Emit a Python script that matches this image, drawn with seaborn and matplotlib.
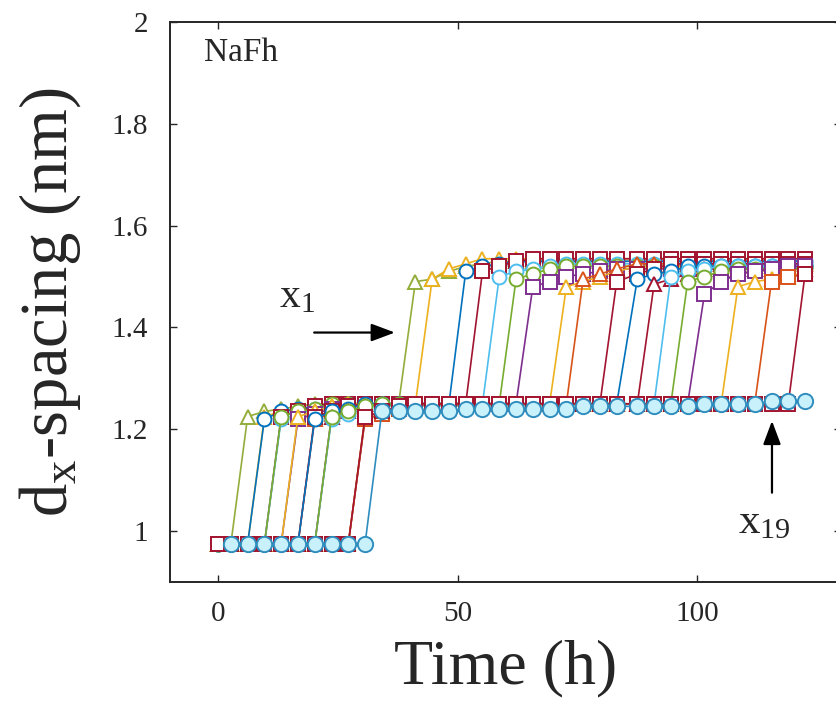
import numpy as np
import pandas as pd
import seaborn as sns
import matplotlib
matplotlib.use("Agg")
import matplotlib.pyplot as plt

# sampling times (h)
time_h = [0, 2.7, 6.2, 9.7, 13.2, 16.7, 20.2, 23.7, 27.2, 30.7,
          34.2, 37.7, 41.2, 44.7, 48.2, 51.7, 55.2, 58.7, 62.2, 65.7,
          69.2, 72.7, 76.2, 79.7, 83.2, 87.5, 91.0, 94.5, 98.0, 101.5,
          105.0, 108.5, 112.0, 115.5, 119.0, 122.5]

# d-spacing (nm) of each layer x1..x19
x01 = [0.975]*2 + [1.225, 1.235, 1.24, 1.245] + [1.25]*6 + [1.49, 1.495, 1.51, 1.52, 1.525] + [1.53]*19
x02 = [0.975]*3 + [1.225, 1.235, 1.24, 1.245] + [1.25]*6 + [1.495, 1.515, 1.525] + [1.535]*20
x03 = [0.975]*3 + [1.22, 1.235, 1.24, 1.245] + [1.25]*8 + [1.51, 1.52, 1.525] + [1.53]*18
x04 = [0.975]*4 + [1.225, 1.235, 1.245] + [1.25]*9 + [1.51, 1.52, 1.53] + [1.535]*17
x05 = [0.975]*4 + [1.22, 1.23, 1.24, 1.245] + [1.25]*9 + [1.50, 1.51, 1.515, 1.52] + [1.525]*15
x06 = [0.975]*4 + [1.225, 1.235, 1.24] + [1.25]*11 + [1.495, 1.505, 1.515] + [1.52]*15
x07 = [0.975]*5 + [1.22, 1.23, 1.24, 1.245] + [1.25]*10 + [1.48, 1.49, 1.50, 1.505, 1.51] + [1.515]*12
x08 = [0.975]*5 + [1.225, 1.235, 1.245] + [1.25]*13 + [1.48, 1.49, 1.50, 1.51] + [1.52]*11
x09 = [0.975]*6 + [1.22, 1.23, 1.24] + [1.25]*13 + [1.495, 1.505, 1.515] + [1.525]*11
x10 = [0.975]*6 + [1.225, 1.235, 1.245] + [1.25]*15 + [1.49, 1.505, 1.515] + [1.525]*9
x11 = [0.975]*6 + [1.22, 1.235, 1.24] + [1.25]*16 + [1.495, 1.505, 1.51] + [1.52]*8
x12 = [0.975]*7 + [1.225, 1.235, 1.245] + [1.25]*16 + [1.485, 1.495, 1.505] + [1.515]*7
x13 = [0.975]*7 + [1.22, 1.23, 1.24] + [1.25]*17 + [1.50, 1.51, 1.515] + [1.52]*6
x14 = [0.975]*7 + [1.225, 1.235, 1.245] + [1.25]*18 + [1.49, 1.50, 1.51] + [1.515]*5
x15 = [0.975]*9 + [1.22, 1.23, 1.24] + [1.25]*17 + [1.465, 1.49, 1.505, 1.51, 1.515, 1.52, 1.52]
x16 = [0.975]*9 + [1.225, 1.235, 1.245] + [1.25]*19 + [1.48, 1.49, 1.495, 1.50, 1.505]
x17 = [0.975]*9 + [1.22, 1.23, 1.24] + [1.25]*21 + [1.49, 1.50, 1.505]
x18 = [0.975]*9 + [1.225, 1.235, 1.245] + [1.25]*23 + [1.505]
x19 = [np.nan] + [0.975]*9 + [1.235]*5 + [1.24]*7 + [1.245]*7 + [1.25]*4 + [1.255]*3

layers = [x01, x02, x03, x04, x05, x06, x07, x08, x09, x10,
          x11, x12, x13, x14, x15, x16, x17, x18, x19]

colors = ['#93AD3C', '#EDB120', '#0072BD', '#A2142F', '#4DBEEE', '#77AC30',
          '#7E2F8E', '#EDB120', '#D95319', '#A2142F', '#0072BD', '#A2142F',
          '#4DBEEE', '#77AC30', '#7E2F8E', '#EDB120', '#D95319', '#A2142F',
          '#2F8DBE']
markers = ['^', '^', 'o', 's', 'o', 'o', 's', '^', '^', 's',
           'o', '^', 'o', 'o', 's', '^', 's', 's', 'o']

rows = []
for i, vals in enumerate(layers):
    for t, v in zip(time_h, vals):
        rows.append({"layer": f"x{i + 1}", "time": t, "d": v})
df = pd.DataFrame(rows)

sns.set_theme(style="ticks")
plt.rcParams['font.family'] = ['Liberation Serif', 'DejaVu Serif']
plt.rcParams['mathtext.fontset'] = 'custom'
plt.rcParams['mathtext.rm'] = 'Liberation Serif'
plt.rcParams['mathtext.it'] = 'Liberation Serif'

fig = plt.figure(figsize=(8.36, 7.11), dpi=100)
ax = fig.add_axes([170 / 836, 129 / 711, 671 / 836, 560 / 711])

for i in range(len(layers)):
    sub = df[df["layer"] == f"x{i + 1}"].dropna()
    last = i == len(layers) - 1
    sns.lineplot(
        data=sub, x="time", y="d", ax=ax, estimator=None, sort=False,
        color=colors[i], linewidth=1.2, marker=markers[i], markersize=11 if last else 10,
        markerfacecolor='#C9F1FB' if last else 'white',
        markeredgecolor=colors[i], markeredgewidth=1.4,
        zorder=10 if last else 3 + i * 0.1, legend=False,
    )

ax.set_xlim(-10, 130)
ax.set_ylim(0.9, 2)
ax.set_xticks([0, 50, 100])
ax.set_yticks([1, 1.2, 1.4, 1.6, 1.8, 2])
ax.set_yticklabels(['1', '1.2', '1.4', '1.6', '1.8', '2'])
ax.tick_params(direction='in', length=5, width=1, labelsize=21, colors='#262626',
               top=True, right=True)
ax.tick_params(axis='y', pad=16)
ax.tick_params(axis='x', pad=14)
for sp in ax.spines.values():
    sp.set_color('#262626')
    sp.set_linewidth(1.4)

ax.set_xlabel('Time (h)', fontsize=46, labelpad=9)
ax.set_ylabel(r'd$_\mathrm{x}$-spacing (nm)', fontsize=48, labelpad=20)

ax.text(-3, 1.94, 'NaFh', fontsize=24, ha='left', va='center')

ax.annotate('', xy=(37.5, 1.39), xytext=(19.5, 1.39),
            arrowprops=dict(arrowstyle='-|>,head_length=1.2,head_width=0.45',
                            color='black', lw=1.6))
ax.text(16.5, 1.46, r'x$_\mathrm{1}$', fontsize=30, ha='center', va='center')

ax.annotate('', xy=(115.6, 1.222), xytext=(115.6, 1.07),
            arrowprops=dict(arrowstyle='-|>,head_length=1.2,head_width=0.45',
                            color='black', lw=1.6))
ax.text(114.0, 1.015, r'x$_\mathrm{19}$', fontsize=31, ha='center', va='center')

fig.savefig("out.png", dpi=100)
